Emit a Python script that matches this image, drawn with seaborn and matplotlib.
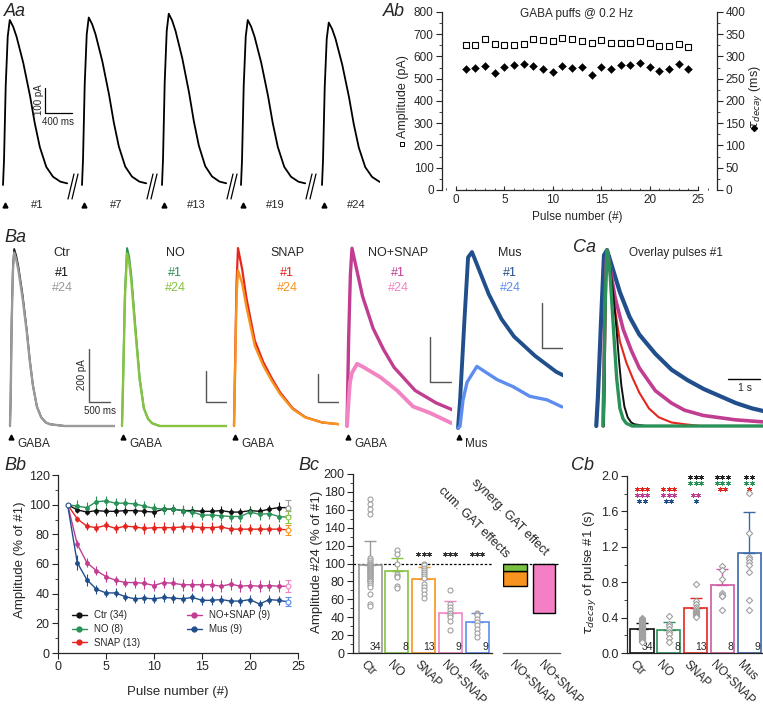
import numpy as np
import pandas as pd
import matplotlib
matplotlib.use('Agg')
import matplotlib.pyplot as plt
from matplotlib.lines import Line2D
from matplotlib.ticker import MultipleLocator, FormatStrFormatter
from matplotlib.transforms import ScaledTranslation
import seaborn as sns

sns.set_style('ticks')
plt.rcParams['font.family'] = ['Liberation Sans', 'DejaVu Sans']
plt.rcParams['axes.linewidth'] = 0.9

# ---------------- data ----------------
pulses = list(range(1, 25))
conds = ['Ctr', 'NO', 'SNAP', 'NO+SNAP', 'Mus']
n_amp = [34, 8, 13, 9, 9]
n_tau = [34, 8, 13, 8, 9]

# Ab: amplitude (pA) and decay tau (ms) per pulse
ab_amp = [650, 650, 677, 658, 653, 653, 658, 677, 676, 668, 683, 679,
          670, 662, 674, 661, 660, 660, 671, 661, 649, 648, 658, 643]
ab_tau = [271, 274, 279, 262, 277, 280, 283, 279, 271, 265, 278, 274,
          276, 258, 277, 271, 280, 282, 286, 277, 268, 273, 284, 272]

# Aa: peak (pA) of the shown puffs
aa_labels = ['#1', '#7', '#13', '#19', '#24']
aa_peak = [650, 660, 675, 650, 640]

# current waveforms: time (ms) from puff onset, current relative to peak of #1
ctr_t = [0, 15, 40, 70, 100, 150, 200, 300, 400, 470, 545, 640, 740, 850, 950, 1300, 2000, 3000, 5200]
ctr_1 = [0, 0.15, 0.6, 0.9, 1.0, 0.96, 0.9, 0.74, 0.54, 0.375, 0.23, 0.11, 0.05, 0.02, 0.01, 0, 0, 0, 0]
ctr_24 = [0, 0.15, 0.58, 0.88, 0.98, 0.94, 0.88, 0.72, 0.53, 0.37, 0.23, 0.11, 0.05, 0.02, 0.01, 0, 0, 0, 0]
no_t = [0, 30, 70, 120, 170, 220, 320, 420, 520, 620, 720, 900, 2000, 5200]
no_1 = [0, 0.3, 0.75, 1.0, 0.95, 0.85, 0.55, 0.27, 0.10, 0.04, 0.015, 0, 0, 0]
no_24 = [0, 0.29, 0.72, 0.97, 0.92, 0.82, 0.53, 0.26, 0.10, 0.04, 0.015, 0, 0, 0]
snap_t = [0, 30, 60, 95, 195, 295, 495, 695, 895, 1095, 1395, 1695, 2095, 2500, 3000, 5200]
snap_1 = [0, 0.4, 0.8, 1.0, 0.88, 0.72, 0.48, 0.36, 0.27, 0.19, 0.10, 0.05, 0.02, 0.01, 0, 0]
snap_24 = [0, 0.35, 0.72, 0.876, 0.80, 0.67, 0.45, 0.34, 0.255, 0.18, 0.095, 0.048, 0.02, 0.01, 0, 0]
ns_t = [0, 40, 80, 119, 370, 620, 870, 1120, 1620, 2120, 2520, 3100, 4100, 5200]
ns_1 = [0, 0.5, 0.85, 1.0, 0.73, 0.55, 0.43, 0.33, 0.2, 0.13, 0.09, 0.06, 0.035, 0.02]
ns24_t = [0, 40, 70, 120, 240, 400, 790, 1190, 1570, 1980, 2480, 3000]
ns_24 = [0, 0.15, 0.245, 0.3, 0.35, 0.33, 0.275, 0.2, 0.11, 0.073, 0.017, 0.01]
mus_t = [0, 50, 150, 240, 333, 533, 733, 1033, 1333, 1833, 2333, 2833, 3333, 3833, 4333, 4833, 5300]
mus_1 = [0, 0.16, 0.6, 0.97, 1.0, 0.88, 0.76, 0.62, 0.52, 0.41, 0.32, 0.26, 0.21, 0.17, 0.13, 0.10, 0.08]
mus24_t = [0, 48, 120, 215, 450, 930, 1310, 1710, 2120, 2475]
mus_24 = [0, 0.01, 0.16, 0.26, 0.35, 0.275, 0.235, 0.18, 0.16, 0.12]

# Ba: peak of pulse #1 (pA)
ba_peak = [668, 1148, 1271, 790, 782]

# Bb: amplitude (% of #1), mean and SEM
bb_ctr = [100, 96.5, 95, 96, 95.5, 95.5, 96, 96, 95.5, 95, 97, 97, 96, 96, 95.5, 95.5, 96, 95, 95, 96, 95.5, 97, 98, 98]
bb_no = [100, 99, 98, 102, 102.5, 101, 101, 100.5, 99, 97.5, 97, 97, 96, 95, 93, 93, 92.5, 92, 92, 95, 93.5, 94, 92, 91.5]
bb_snap = [100, 90.5, 85.5, 84.5, 86, 84, 85.5, 85, 84, 84.5, 84.5, 84.5, 85, 85, 84.5, 84.5, 85, 83.5, 83.5, 83.5, 83.5, 83.5, 83.5, 83]
bb_ns = [100, 73.5, 61, 55.5, 51.5, 49, 47.5, 47.5, 47, 45.5, 47.5, 47, 46, 46, 46, 46, 45, 46.5, 45, 45.5, 45, 45.5, 45, 45]
bb_mus = [100, 61, 49.5, 43, 40.5, 40.5, 38, 36.5, 37, 36.5, 37.5, 37, 36.5, 37.5, 35.5, 35.5, 36, 35, 35, 36, 33, 36, 35.5, 34.5]
bb_ctr_err = [0, 2, 2, 3, 3, 3, 3, 3, 3, 3, 3, 3, 3, 3, 3, 3, 3, 3, 3, 3, 3, 3, 4, 5]
bb_no_err = [0, 4, 4, 4, 3.5, 3.5, 3.5, 3.5, 3.5, 3.5, 3.5, 3.5, 3.5, 3.5, 3.5, 3.5, 3.5, 3.5, 3.5, 3.5, 3.5, 3.5, 3.5, 4]
bb_snap_err = [0, 2, 2.5, 3, 3, 3, 3, 3, 3.5, 3.5, 3.5, 3.5, 3.5, 3.5, 3.5, 3.5, 3.5, 3.5, 3.5, 3.5, 3.5, 3.5, 3.5, 3.5]
bb_ns_err = [0, 3, 3, 3, 3.5, 3, 3, 3.5, 4, 4, 4, 4, 4, 4, 4, 4, 4, 4, 4, 4, 4, 4, 4, 4]
bb_mus_err = [0, 5, 4, 3, 2.5, 3, 3, 3, 3, 3, 3, 3, 3, 3, 3, 3, 3, 3, 3, 3, 3, 3, 3, 3]

# Bc: amplitude of #24 (% of #1)
bc_mean = [98.2, 91.4, 83.2, 45.2, 34.7]
bc_err = [27.3, 15.3, 13.4, 13.2, 10.0]
bc_stars = [0, 0, 3, 3, 3]
bc_ctr_pts = [172, 166, 161, 155, 106, 104, 102, 100, 99, 98, 97, 96, 95, 94, 93, 92, 91,
              90, 89, 88, 87, 86, 85, 84, 83, 82, 81, 80, 78, 76, 74, 66, 55, 52]
bc_no_pts = [115, 111, 99, 88, 86, 85, 75, 73]
bc_snap_pts = [100, 98, 95, 93, 90, 88, 86, 84, 77, 74, 70, 66, 62]
bc_ns_pts = [70, 55, 51, 48, 45, 42, 40, 36, 26]
bc_mus_pts = [45, 44, 42, 38, 35, 31, 27, 22, 18]

# Cb: tau decay of pulse #1 (s)
cb_mean = [0.272, 0.257, 0.51, 0.767, 1.125]
cb_err = [0.068, 0.088, 0.106, 0.177, 0.468]
cb_ctr_pts = [0.40, 0.38, 0.37, 0.36, 0.35, 0.34, 0.33, 0.32, 0.31, 0.30, 0.29, 0.29,
              0.28, 0.27, 0.27, 0.26, 0.25, 0.25, 0.24, 0.23, 0.23, 0.22, 0.21, 0.21,
              0.20, 0.19, 0.18, 0.18, 0.17, 0.16, 0.15, 0.14, 0.13, 0.12]
cb_no_pts = [0.42, 0.33, 0.30, 0.27, 0.24, 0.21, 0.17, 0.12]
cb_snap_pts = [0.78, 0.59, 0.55, 0.52, 0.50, 0.48, 0.47, 0.46, 0.45, 0.44, 0.43, 0.42, 0.41]
cb_ns_pts = [0.98, 0.94, 0.84, 0.68, 0.66, 0.645, 0.64, 0.49]
cb_mus_pts = [1.81, 1.36, 1.09, 1.06, 1.03, 1.0, 0.92, 0.6, 0.49]
# number of asterisks for each bar, one row per comparison group
stars_vs_ctr = [0, 0, 3, 3, 2]
stars_vs_no = [0, 0, 3, 3, 2]
stars_vs_snap = [3, 3, 0, 2, 1]
stars_vs_ns = [3, 3, 2, 0, 0]
stars_vs_mus = [2, 2, 1, 0, 0]

# colours: pulse #1 and pulse #24
c1 = {'Ctr': '#111111', 'NO': '#2a9158', 'SNAP': '#e4261f', 'NO+SNAP': '#c13d91', 'Mus': '#214f8c'}
c24 = {'Ctr': '#9a9a9a', 'NO': '#86c440', 'SNAP': '#f7941e', 'NO+SNAP': '#f384c3', 'Mus': '#5c8def'}
cb_col = {'Ctr': '#111111', 'NO': '#2a9158', 'SNAP': '#e4261f', 'NO+SNAP': '#d05aa6', 'Mus': '#3a69aa'}

# ---------------- figure ----------------
W, H = 763.0, 711.0
fig = plt.figure(figsize=(W / 100, H / 100), dpi=100)


def add_box(l, t, r, b):
    a = fig.add_axes([l / W, 1 - b / H, (r - l) / W, (b - t) / H])
    a.patch.set_alpha(0)
    return a


def ftext(x, y, s, **kw):
    kw.setdefault('ha', 'center')
    kw.setdefault('va', 'center')
    kw.setdefault('fontsize', 8.5)
    fig.text(x / W, 1 - y / H, s, **kw)


def fmark(x, y, **kw):
    fig.add_artist(Line2D([x / W], [1 - y / H], ls='none', **kw))


def panel(x, y, s):
    ftext(x, y, s, ha='left', fontsize=13, style='italic')


def stars(ax, x, y, n, color, dx):
    if n == 0:
        return
    xs = x + (np.arange(n) - (n - 1) / 2.0) * dx
    ax.plot(xs, [y] * n, ls='none', marker=(6, 2, 0), ms=3.4, mew=0.6, color=color, clip_on=False)


# ---- Aa: example traces ----
ax = add_box(0, 0, 380, 215)
ax.axis('off')
MS_A, PA_A = 14.8, 3.94
ax.set_xlim(-3 * MS_A, 377 * MS_A)
ax.set_ylim(-30 * PA_A, 185 * PA_A)
aa_start_px = [3, 82, 162, 241, 322]
tt = np.array(ctr_t)
yy = np.array(ctr_1)
keep = tt <= 950
for i, (px, pk, lab) in enumerate(zip(aa_start_px, aa_peak, aa_labels)):
    t0 = (px - 3) * MS_A
    ax.plot(t0 + tt[keep], pk * yy[keep], color='k', lw=1.3)
    fmark(px + 2, 205, marker='^', color='k', ms=3.5)
    ftext(px + 34, 205, lab, fontsize=8)
    if i < 4:
        for dx in (0, 4):
            ax.plot([t0 + (65 + dx) * MS_A, t0 + (71 + dx) * MS_A], [-14 * PA_A, 11 * PA_A],
                    color='k', lw=0.9, clip_on=False)
ax.plot([620, 620, 1020], [384, 284, 284], color='k', lw=0.9)
ftext(39, 100, '100 pA', rotation=90, fontsize=7)
ftext(58, 122, '400 ms', fontsize=7)
panel(4, 11, 'Aa')

# ---- Ab: amplitude and tau over pulses ----
ax = add_box(442, 12, 717, 190)
ax.set_xlim(-14 / 9.68, 25 + 19 / 9.68)
ax.set_ylim(0, 800)
ax.plot(pulses, ab_amp, 's', mfc='white', mec='k', ms=4, mew=0.8)
ax2 = ax.twinx()
ax2.set_ylim(0, 400)
sns.scatterplot(x=pulses, y=ab_tau, marker='D', color='k', s=16, edgecolor='k', ax=ax2)
for a in (ax, ax2):
    a.spines['top'].set_visible(False)
ax.spines['right'].set_visible(False)
ax2.spines['left'].set_visible(False)
ax2.spines['bottom'].set_visible(False)
ax.spines['bottom'].set_bounds(0, 25)
ax.yaxis.set_major_locator(MultipleLocator(100))
ax.yaxis.set_minor_locator(MultipleLocator(50))
ax2.yaxis.set_major_locator(MultipleLocator(50))
ax2.yaxis.set_minor_locator(MultipleLocator(25))
ax.xaxis.set_major_locator(MultipleLocator(5))
ax.xaxis.set_minor_locator(MultipleLocator(1))
ax.tick_params(axis='y', which='major', direction='out', length=4, labelsize=8.5, pad=2)
ax.tick_params(axis='y', which='minor', direction='out', length=2)
ax2.tick_params(axis='y', which='major', direction='out', length=4, labelsize=8.5, pad=2)
ax2.tick_params(axis='y', which='minor', direction='out', length=2)
ax.tick_params(axis='x', which='major', direction='in', length=3, labelsize=8.5, pad=3)
ax.tick_params(axis='x', which='minor', direction='in', length=1.5)
ax2.set_ylabel('')
ftext(577, 14, 'GABA puffs @ 0.2 Hz', fontsize=8.5)
ftext(577, 217, 'Pulse number (#)', fontsize=8.5)
ftext(403, 97, 'Amplitude (pA)', rotation=90, fontsize=9)
fmark(402, 144, marker='s', mfc='white', mec='k', ms=3, mew=0.7)
ftext(755, 97, r'$\tau_{decay}$ (ms)', rotation=90, fontsize=9)
fmark(754, 128, marker='D', color='k', ms=3)
panel(383, 11, 'Ab')

# ---- Ba: traces of pulse #1 and #24 per condition ----
MS_B = 23.8
ba_start_px = [10, 122, 234, 347, 458]
ba_base_px = [426, 426, 426, 426, 428]
ba_bar_px = [53, 31, 28, 45, 45]
ba_bar_x = [89, 206, 318, 430, 542]
ba_bar_y = [402, 402, 402, 382, 348]
ba_name_x = [62, 175, 287, 398, 510]
ba_traces = [(ctr_t, ctr_1, ctr_t, ctr_24), (no_t, no_1, no_t, no_24),
             (snap_t, snap_1, snap_t, snap_24), (ns_t, ns_1, ns24_t, ns_24),
             (mus_t, mus_1, mus24_t, mus_24)]
lw1 = [1.3, 1.4, 1.6, 2.4, 2.8]
lw24 = [1.7, 1.7, 1.7, 2.8, 2.4]
for i, c in enumerate(conds):
    s, b = ba_start_px[i], ba_base_px[i]
    k = 200.0 / ba_bar_px[i]
    ax = add_box(s - 8, 240, s + 105, 455)
    ax.axis('off')
    ax.set_xlim(-8 * MS_B, 105 * MS_B)
    ax.set_ylim((b - 455) * k, (b - 240) * k)
    t1, y1, t24, y24 = ba_traces[i]
    ax.plot(t1, np.array(y1) * ba_peak[i], color=c1[c], lw=lw1[i])
    ax.plot(t24, np.array(y24) * ba_peak[i], color=c24[c], lw=lw24[i])
    bx = (ba_bar_x[i] - s) * MS_B
    by = (b - ba_bar_y[i]) * k
    ax.plot([bx, bx, bx + 500], [by + 200, by, by], color='#555555', lw=1)
    ftext(ba_name_x[i], 253, c, fontsize=9)
    ftext(ba_name_x[i], 273, '#1', fontsize=9, color=c1[c])
    ftext(ba_name_x[i], 288, '#24', fontsize=9, color=c24[c])
    fmark(s + 1, 437, marker='^', color='k', ms=3.5)
    ftext(s + 7, 444, 'Mus' if c == 'Mus' else 'GABA', ha='left', fontsize=8.5)
ftext(82, 375, '200 pA', rotation=90, fontsize=7)
ftext(100, 411, '500 ms', fontsize=7)
panel(4, 238, 'Ba')

# ---- Ca: overlay of pulse #1, normalised ----
ax = add_box(588, 240, 763, 455)
ax.axis('off')
MS_C = 31.0
ax.set_xlim(-19 * MS_C, 156 * MS_C)
ax.set_ylim(-29 / 176.0, 186 / 176.0)
ca_list = [(mus_t, mus_1, c1['Mus'], 3.0), (ns_t, ns_1, c1['NO+SNAP'], 2.6),
           (snap_t, snap_1, c1['SNAP'], 1.5), (ctr_t, ctr_1, c1['Ctr'], 1.4),
           (no_t, no_1, c1['NO'], 2.4)]
for t, y, col, lw in ca_list:
    t = np.array(t, float)
    y = np.array(y, float)
    ax.plot(t - t[np.argmax(y)], y, color=col, lw=lw)
ax.plot([3751, 4751], [0.267, 0.267], color='k', lw=1)
ftext(745, 388, '1 s', fontsize=7.5)
ftext(676, 253, 'Overlay pulses #1', fontsize=8.5)
panel(573, 248, 'Ca')

# ---- Bb: amplitude over pulses ----
ax = add_box(58, 475, 298, 653)
bb_means = [bb_ctr, bb_no, bb_snap, bb_ns, bb_mus]
bb_errs = [bb_ctr_err, bb_no_err, bb_snap_err, bb_ns_err, bb_mus_err]
df = pd.DataFrame({'pulse': pulses * 5,
                   'amp': sum(bb_means, []),
                   'cond': sum([[c] * 24 for c in conds], [])})
sns.lineplot(data=df, x='pulse', y='amp', hue='cond', palette=c1, hue_order=conds,
             lw=1, errorbar=None, legend=False, ax=ax)
for c, m, e in zip(conds, bb_means, bb_errs):
    ax.errorbar(pulses[1:23], m[1:23], yerr=e[1:23], fmt='o', color=c1[c], ms=3.5,
                mew=0, capsize=2, elinewidth=0.8, capthick=0.8)
    ax.errorbar(pulses[23:], m[23:], yerr=e[23:], fmt='o', mfc='white', mec=c24[c],
                ecolor=c24[c], ms=3.5, mew=0.8, capsize=2, elinewidth=0.8, capthick=0.8)
ax.plot(1, 100, 'o', mfc='white', mec=c1['Mus'], ms=3.5, mew=0.8)
ax.set_xlim(0, 25)
ax.set_ylim(0, 120)
sns.despine(ax=ax)
ax.xaxis.set_major_locator(MultipleLocator(5))
ax.yaxis.set_major_locator(MultipleLocator(20))
ax.yaxis.set_minor_locator(MultipleLocator(10))
ax.tick_params(which='major', direction='out', length=4, labelsize=9, pad=2)
ax.tick_params(which='minor', direction='out', length=2)
ax.set_xlabel('')
ax.set_ylabel('')
handles = [Line2D([], [], color=c1[c], marker='o', ms=3.5, lw=1) for c in conds]
labels = ['%s (%d)' % (c, n) for c, n in zip(conds, n_amp)]
ax.legend(handles, labels, ncol=2, frameon=False, fontsize=7, loc='lower left',
          bbox_to_anchor=(0.02, -0.02), handlelength=1.6, columnspacing=4.8,
          labelspacing=0.4, handletextpad=0.7)
ftext(20, 560, 'Amplitude (% of #1)', rotation=90, fontsize=9.5)
ftext(178, 692, 'Pulse number (#)', fontsize=9.5)
panel(4, 465, 'Bb')


def bar_panel(ax, means, errs, pts, cols, marker, ns, size, shift):
    sns.barplot(x=conds, y=means, hue=conds, palette=cols, order=conds, hue_order=conds,
                fill=False, width=0.86, linewidth=1.2, legend=False, errorbar=None, ax=ax)
    for i, c in enumerate(conds):
        ax.errorbar(i, means[i], yerr=[[0], [errs[i]]], fmt='none', ecolor=cols[c],
                    capsize=4, elinewidth=1, capthick=1)
    dfp = pd.DataFrame({'cond': sum([[c] * len(p) for c, p in zip(conds, pts)], []),
                        'val': sum(pts, [])})
    sns.stripplot(data=dfp, x='cond', y='val', order=conds, jitter=False, color='white',
                  edgecolor='#a0a0a0', linewidth=0.8, size=size, marker=marker, ax=ax, zorder=4)
    for i, n in enumerate(ns):
        ax.text(i + 0.42, 0.005 * ax.get_ylim()[1], str(n), ha='right', va='bottom', fontsize=7.5)
    sns.despine(ax=ax)
    ax.set_xlabel('')
    ax.set_ylabel('')
    ax.tick_params(axis='x', length=0, pad=4, labelsize=8.5)
    off = ScaledTranslation(shift / 100.0, 0, fig.dpi_scale_trans)
    for lab in ax.get_xticklabels():
        lab.set_rotation(-45)
        lab.set_ha('left')
        lab.set_rotation_mode('anchor')
        lab.set_transform(lab.get_transform() + off)


# ---- Bc: amplitude of pulse #24 ----
ax = add_box(353, 474, 492, 653)
ax.set_ylim(0, 200)
ax.axhline(100, color='k', lw=0.9, ls=(0, (2, 1.5)), zorder=0)
bar_panel(ax, bc_mean, bc_err, [bc_ctr_pts, bc_no_pts, bc_snap_pts, bc_ns_pts, bc_mus_pts],
          c24, 'o', n_amp, 3.6, -3)
ax.set_xlim(-0.636, 4.56)
ax.set_ylim(0, 200)
for i, n in enumerate(bc_stars):
    stars(ax, i, 110.5, n, '#333333', 0.19)
ax.yaxis.set_major_locator(MultipleLocator(20))
ax.yaxis.set_minor_locator(MultipleLocator(10))
ax.tick_params(axis='y', which='major', direction='out', length=4, labelsize=9, pad=2)
ax.tick_params(axis='y', which='minor', direction='out', length=2)
ftext(317, 562, 'Amplitude #24 (% of #1)', rotation=90, fontsize=9.5)
panel(298, 465, 'Bc')

# ---- cumulative vs synergistic GAT effects ----
ax = add_box(503, 474, 560, 653)
ax.set_xlim(-0.414, 1.552)
ax.set_ylim(0, 200)
no_eff = 100 - bc_mean[1]
snap_eff = 100 - bc_mean[2]
ax.bar(0, snap_eff, bottom=100 - no_eff - snap_eff, width=0.83, color='#f7931e', edgecolor='k', lw=1)
ax.bar(0, no_eff, bottom=100 - no_eff, width=0.83, color='#7ac143', edgecolor='k', lw=1)
ax.bar(1, 100 - bc_mean[3], bottom=bc_mean[3], width=0.76, color='#f57fc5', edgecolor='k', lw=1)
ax.axhline(100, color='k', lw=0.9, ls=(0, (2, 1.5)), zorder=0)
for sp in ('top', 'right', 'left'):
    ax.spines[sp].set_visible(False)
ax.spines['bottom'].set_color('#555555')
ax.set_yticks([])
ax.set_xticks([0, 1])
ax.set_xticklabels(['NO+SNAP', 'NO+SNAP'])
ax.tick_params(axis='x', length=0, pad=4, labelsize=8.5)
plt.setp(ax.get_xticklabels(), rotation=-45, ha='left', rotation_mode='anchor')
ftext(444, 485, 'cum. GAT effects', rotation=-45, rotation_mode='anchor', ha='left', va='top', fontsize=9)
ftext(477, 477, 'synerg. GAT effect', rotation=-45, rotation_mode='anchor', ha='left', va='top', fontsize=9)

# ---- Cb: tau decay of pulse #1 ----
ax = add_box(627, 476, 763, 653)
ax.set_ylim(0, 2)
bar_panel(ax, cb_mean, cb_err, [cb_ctr_pts, cb_no_pts, cb_snap_pts, cb_ns_pts, cb_mus_pts],
          cb_col, 'D', n_tau, 3.2, -6)
ax.set_xlim(-0.56, 4.52)
ax.set_ylim(0, 2)
star_rows = [(stars_vs_ctr, '#222222', 1.99), (stars_vs_no, c1['NO'], 1.922),
             (stars_vs_snap, c1['SNAP'], 1.858), (stars_vs_ns, c1['NO+SNAP'], 1.785),
             (stars_vs_mus, c1['Mus'], 1.712)]
for row, col, yv in star_rows:
    for i, n in enumerate(row):
        stars(ax, i, yv, n, col, 0.2)
ax.yaxis.set_major_locator(MultipleLocator(0.4))
ax.yaxis.set_minor_locator(MultipleLocator(0.2))
ax.yaxis.set_major_formatter(FormatStrFormatter('%.1f'))
ax.tick_params(axis='y', which='major', direction='out', length=4, labelsize=9, pad=2)
ax.tick_params(axis='y', which='minor', direction='out', length=2)
ftext(590, 572, r'$\tau_{decay}$ of pulse #1 (s)', rotation=90, fontsize=9.5)
panel(571, 465, 'Cb')

fig.savefig('out.png', dpi=100)
